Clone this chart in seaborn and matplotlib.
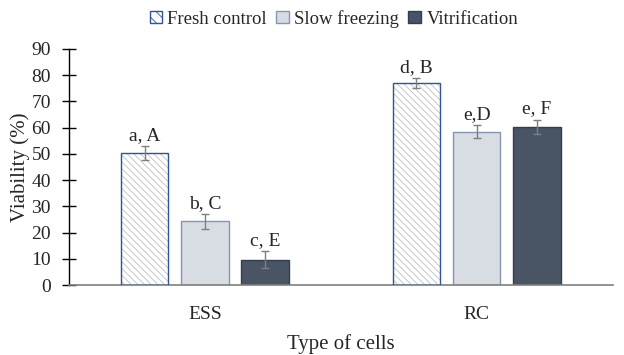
import pandas as pd
import numpy as np
import matplotlib.pyplot as plt
import seaborn as sns
from matplotlib.patches import Patch, Rectangle

sns.set_theme(style="white")
plt.rcParams['font.family'] = ['Liberation Serif', 'DejaVu Serif']
plt.rcParams['hatch.linewidth'] = 0.6

# data
cell_types = ['ESS', 'RC']
treatments = ['Fresh control', 'Slow freezing', 'Vitrification']
viability = {
    'Fresh control': [50.2, 77.0],
    'Slow freezing': [24.3, 58.4],
    'Vitrification': [9.6, 60.4],
}
errors = {
    'Fresh control': [2.7, 2.0],
    'Slow freezing': [2.9, 2.5],
    'Vitrification': [3.2, 2.7],
}
letters = {
    'Fresh control': ['a, A', 'd, B'],
    'Slow freezing': ['b, C', 'e,D'],
    'Vitrification': ['c, E', 'e, F'],
}

fills = {'Fresh control': 'white', 'Slow freezing': '#D6DCE5', 'Vitrification': '#44546A'}
edges = {'Fresh control': '#2F5597', 'Slow freezing': '#8497B0', 'Vitrification': '#333F50'}

rows = []
for t in treatments:
    for i, c in enumerate(cell_types):
        rows.append({'cell': c, 'treatment': t, 'value': viability[t][i],
                     'err': errors[t][i], 'label': letters[t][i]})
df = pd.DataFrame(rows)

fig = plt.figure(figsize=(6.24, 3.55), dpi=100)
ax = fig.add_axes([0.1106, 0.197, 0.871, 0.665])

sns.barplot(data=df, x='cell', y='value', hue='treatment', order=cell_types,
            hue_order=treatments, palette=fills, width=0.665, gap=0.21,
            errorbar=None, legend=False, ax=ax)

text_col = '#262626'
fs = 14
for container, t in zip(ax.containers, treatments):
    sub = df[df['treatment'] == t].set_index('cell').loc[cell_types]
    for bar, (_, r) in zip(container.patches, sub.iterrows()):
        x0, w, h = bar.get_x(), bar.get_width(), bar.get_height()
        if t == 'Fresh control':
            # gray hatch inside, blue outline drawn on top
            bar.set_facecolor('white')
            bar.set_edgecolor('#BFBFBF')
            bar.set_hatch('\\\\\\\\\\')
            bar.set_linewidth(0)
            ax.add_patch(Rectangle((x0, 0), w, h, fill=False,
                                   edgecolor=edges[t], linewidth=1.0, zorder=3))
        else:
            bar.set_edgecolor(edges[t])
            bar.set_linewidth(1.0)
        xc = x0 + w / 2
        ax.errorbar(xc, r['value'], yerr=r['err'], fmt='none', ecolor='#7F7F7F',
                    elinewidth=1.0, capsize=3, capthick=1.0, zorder=4)
        ax.text(xc, r['value'] + r['err'] + 0.8, r['label'], ha='center', va='bottom',
                fontsize=fs, color=text_col)

ax.set_xlim(-0.5, 1.5)
ax.set_ylim(0, 90)
ax.set_yticks(range(0, 91, 10))
ax.tick_params(axis='y', direction='inout', length=10, width=1, color='black',
               labelsize=fs, labelcolor=text_col, pad=8, left=True)
ax.tick_params(axis='x', length=0, labelsize=fs, labelcolor=text_col, pad=15)
for s in ['top', 'right']:
    ax.spines[s].set_visible(False)
ax.spines['left'].set_color('black')
ax.spines['left'].set_linewidth(1.0)
ax.spines['bottom'].set_color('#7F7F7F')
ax.spines['bottom'].set_linewidth(1.2)
ax.grid(False)

ax.set_xlabel('Type of cells', fontsize=fs + 1, color=text_col, labelpad=8)
ax.set_ylabel('Viability (%)', fontsize=fs + 1, color=text_col, labelpad=1)

handles = [
    Patch(facecolor='white', edgecolor=edges['Fresh control'], hatch='\\\\\\', label='Fresh control'),
    Patch(facecolor=fills['Slow freezing'], edgecolor=edges['Slow freezing'], label='Slow freezing'),
    Patch(facecolor=fills['Vitrification'], edgecolor=edges['Vitrification'], label='Vitrification'),
]
fig.legend(handles=handles, loc='upper center', bbox_to_anchor=(0.535, 1.02), ncol=3,
           frameon=False, fontsize=13.5, handlelength=0.65, handleheight=0.65,
           handletextpad=0.3, columnspacing=0.5, labelcolor=text_col)

fig.savefig('out.png', dpi=100)
